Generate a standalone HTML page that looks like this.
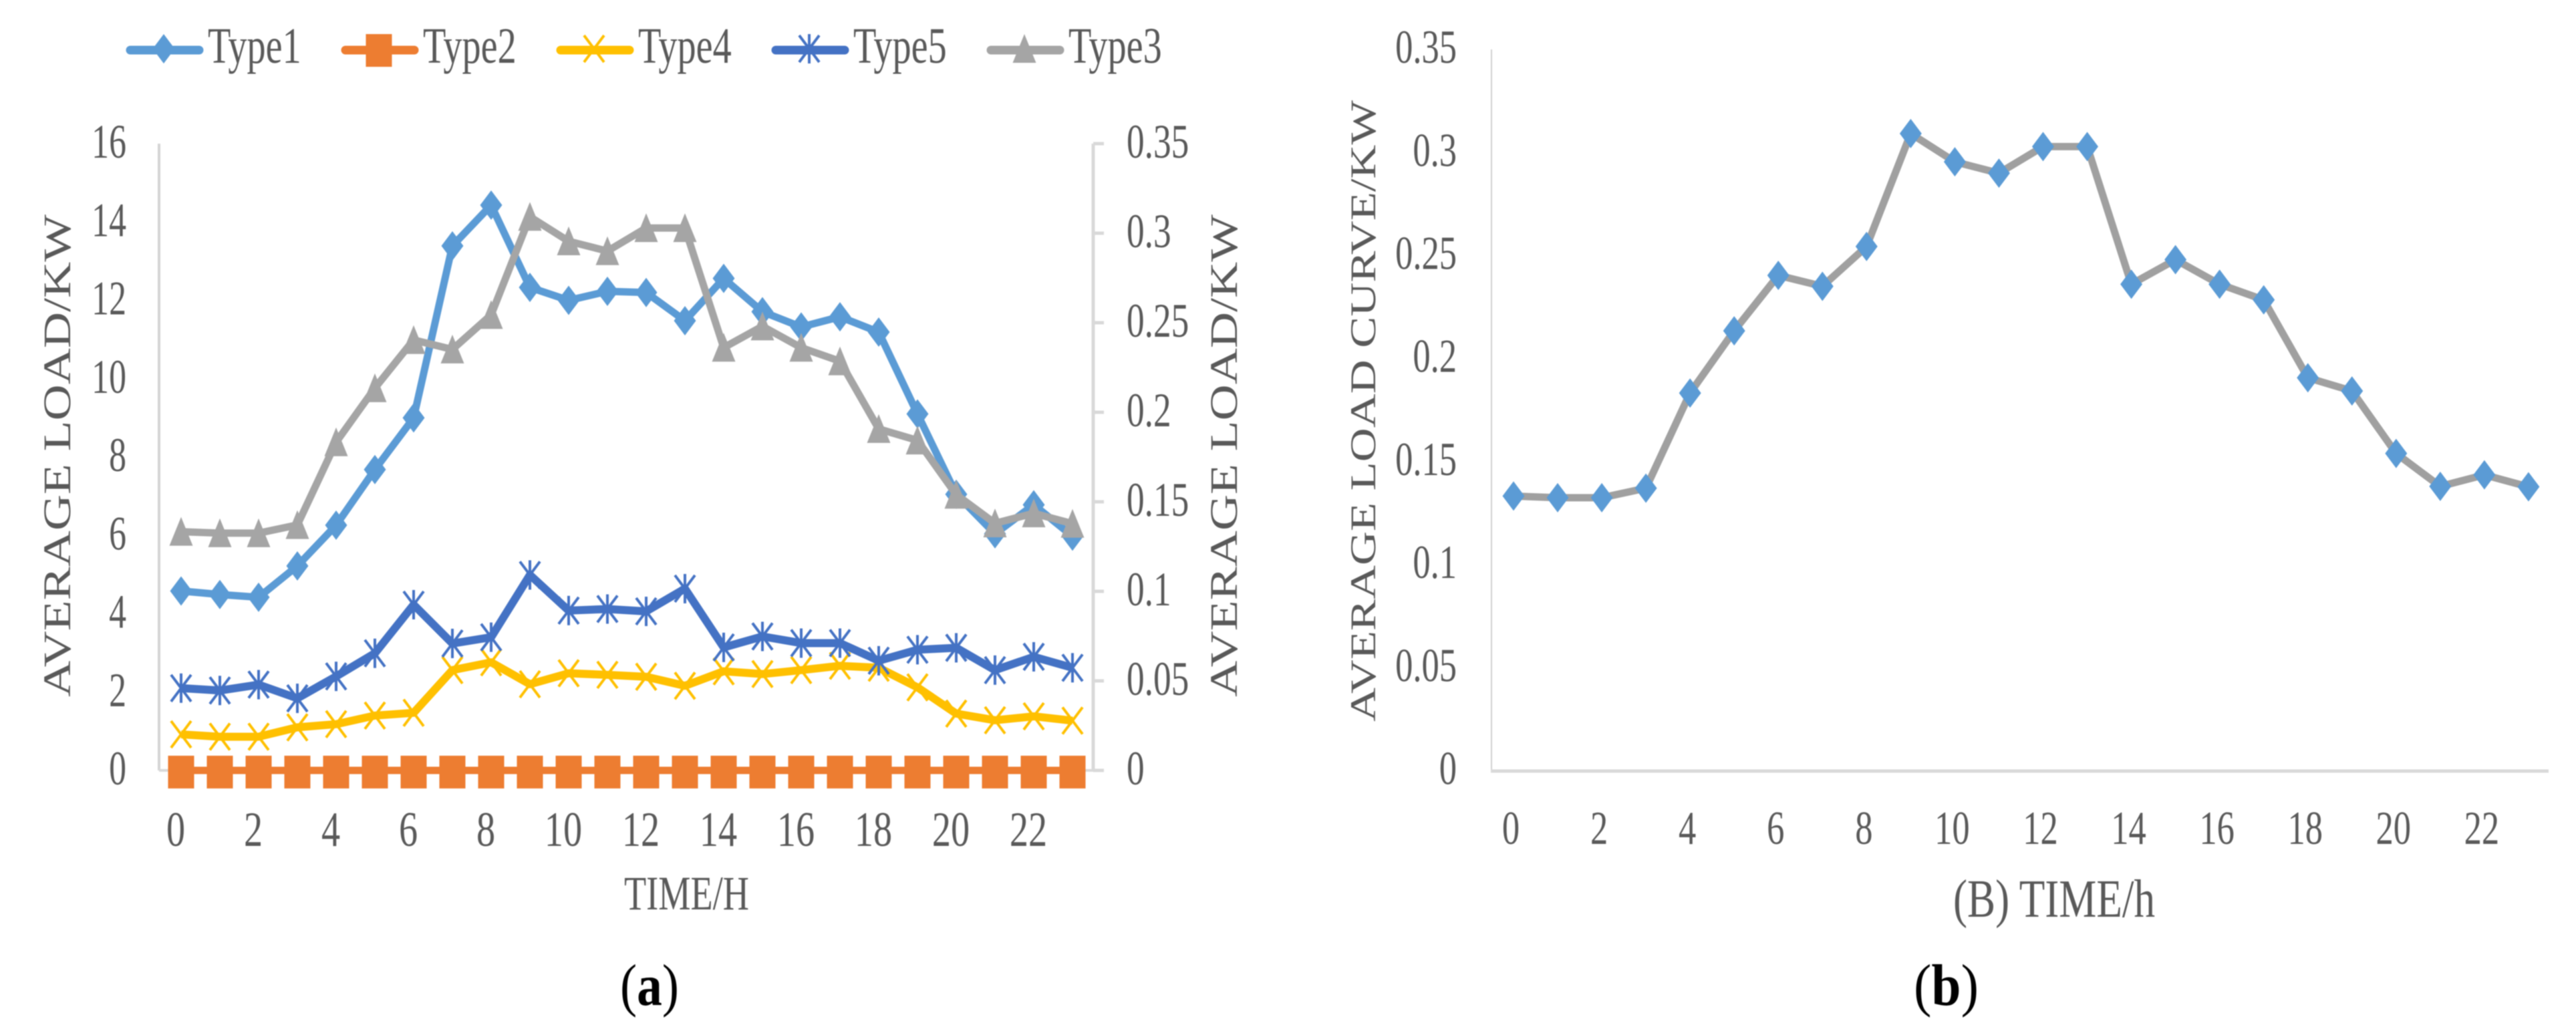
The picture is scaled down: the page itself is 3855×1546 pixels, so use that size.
<!DOCTYPE html>
<html lang="en">
<head>
<meta charset="utf-8">
<title>Average load curves</title>
<style>
  html, body { margin: 0; padding: 0; background: #fff; }
  svg { display: block; filter: blur(0.9px); }
  text { font-family: "Liberation Serif", serif; fill: #595959; }
</style>
</head>
<body>
<svg id="figure" xmlns="http://www.w3.org/2000/svg" width="3855" height="1546" viewBox="0 0 3855 1546">
  <rect x="0" y="0" width="3855" height="1546" fill="#ffffff"/>

  <g id="chart-a"></g>
  <g id="chart-b"></g>

  <text transform="translate(105,1043) rotate(-90)" font-size="58" textLength="722" lengthAdjust="spacingAndGlyphs">AVERAGE LOAD/KW</text>
  <text transform="translate(1851,1043) rotate(-90)" font-size="58" textLength="722" lengthAdjust="spacingAndGlyphs">AVERAGE LOAD/KW</text>
  <text x="934" y="1361" font-size="72" textLength="187" lengthAdjust="spacingAndGlyphs">TIME/H</text>
  <text x="928" y="1504" font-size="88" textLength="88" lengthAdjust="spacingAndGlyphs" style="fill:#000">(<tspan font-weight="bold">a</tspan>)</text>

  <text transform="translate(2058,1080) rotate(-90)" font-size="54" textLength="930" lengthAdjust="spacingAndGlyphs">AVERAGE LOAD CURVE/KW</text>
  <text x="2923" y="1372" font-size="80" textLength="302" lengthAdjust="spacingAndGlyphs">(B) TIME/h</text>
  <text x="2864" y="1504" font-size="88" textLength="97" lengthAdjust="spacingAndGlyphs" style="fill:#000">(<tspan font-weight="bold">b</tspan>)</text>
</svg>

<script>
// ---- data ----
const hours = [0,1,2,3,4,5,6,7,8,9,10,11,12,13,14,15,16,17,18,19,20,21,22,23];
const xTickLabels = [0,2,4,6,8,10,12,14,16,18,20,22];
const leftTickLabels = [0,2,4,6,8,10,12,14,16];
const rightTickLabels = [0,0.05,0.1,0.15,0.2,0.25,0.3,0.35];
const legendNames = ['Type1','Type2','Type4','Type5','Type3'];

const type1 = [4.58,4.49,4.42,5.22,6.26,7.68,9.0,13.39,14.43,12.33,12.0,12.23,12.2,11.48,12.56,11.71,11.32,11.58,11.19,9.1,7.05,6.04,6.78,5.98];
const type2 = [0,0,0,0,0,0,0,0,0,0,0,0,0,0,0,0,0,0,0,0,0,0,0,0];
const type4 = [0.92,0.86,0.86,1.10,1.18,1.40,1.47,2.56,2.76,2.20,2.48,2.44,2.39,2.16,2.53,2.46,2.56,2.67,2.62,2.12,1.45,1.28,1.38,1.27];
const type5 = [2.10,2.04,2.19,1.84,2.40,2.99,4.23,3.24,3.40,4.99,4.08,4.12,4.06,4.64,3.14,3.42,3.25,3.25,2.80,3.08,3.13,2.56,2.90,2.62];
const type3 = [0.1333,0.1325,0.1325,0.1371,0.1833,0.2135,0.2404,0.2351,0.2544,0.3092,0.2955,0.2900,0.3029,0.3029,0.2361,0.2480,0.2361,0.2285,0.1907,0.1843,0.1540,0.1380,0.1436,0.1378];
const averageLoad = [0.1333,0.1325,0.1325,0.1371,0.1833,0.2135,0.2404,0.2351,0.2544,0.3092,0.2955,0.2900,0.3029,0.3029,0.2361,0.2480,0.2361,0.2285,0.1907,0.1843,0.1540,0.1380,0.1436,0.1378];

// ---- helpers ----
const NS = 'http://www.w3.org/2000/svg';
const chartA = document.getElementById('chart-a');
const chartB = document.getElementById('chart-b');

function make(tag, parent, name, attrs) {
  const el = document.createElementNS(NS, tag);
  
  
  for (const k in attrs) { el.setAttribute(k, attrs[k]); }
  parent.appendChild(el);
  return el;
}

function label(parent, name, text, x, y, size, anchor, sx) {
  const el = make('text', parent, name, {
    transform: 'translate(' + x + ',' + y + ') scale(' + sx + ',1)',
    'font-size': size,
    'text-anchor': anchor
  });
  el.textContent = text;
  return el;
}

function marker(parent, name, kind, cx, cy, color) {
  if (kind === 'diamond') {
    return make('polygon', parent, name, { points: (cx-16.5)+','+cy+' '+cx+','+(cy-22)+' '+(cx+16.5)+','+cy+' '+cx+','+(cy+22), fill: color });
  }
  if (kind === 'square') {
    return make('rect', parent, name, { x: cx-19.5, y: cy-22, width: 39, height: 49, fill: color });
  }
  if (kind === 'triangle') {
    return make('polygon', parent, name, { points: (cx-17.5)+','+(cy+21)+' '+cx+','+(cy-22)+' '+(cx+17.5)+','+(cy+21), fill: color });
  }
  if (kind === 'cross') {
    return make('path', parent, name, { d: 'M'+(cx-15)+' '+(cy-20)+'L'+(cx+15)+' '+(cy+20)+'M'+(cx+15)+' '+(cy-20)+'L'+(cx-15)+' '+(cy+20), stroke: color, 'stroke-width': 4, fill: 'none' });
  }
  return make('path', parent, name, { d: 'M'+(cx-15)+' '+(cy-20)+'L'+(cx+15)+' '+(cy+20)+'M'+(cx+15)+' '+(cy-20)+'L'+(cx-15)+' '+(cy+20)+'M'+cx+' '+(cy-22)+'L'+cx+' '+(cy+22), stroke: color, 'stroke-width': 4, fill: 'none' });
}

function drawSeries(parent, name, values, xFn, yFn, kind, color, lineColor, lineWidth) {
  const g = make('g', parent, name, {});
  const pts = values.map(function (v, i) { return xFn(i) + ',' + yFn(v); }).join(' ');
  make('polyline', g, name + '-line', { points: pts, fill: 'none', stroke: lineColor, 'stroke-width': lineWidth, 'stroke-linejoin': 'round' });
  values.forEach(function (v, i) {
    marker(g, name + '-point-' + hours[i], kind, xFn(i), yFn(v), color);
  });
}

// ---- chart (a) scales ----
const aX = function (i) { return 271 + 58 * i; };
const aY = function (v) { return 1153 - v * (938 / 16); };
const aYR = function (v) { return 1153 - v * (938 / 0.35); };

// ---- chart (a) axes ----
make('line', chartA, 'chart-a-left-y-axis', { x1: 238, y1: 215, x2: 238, y2: 1153, stroke: '#d4d4d4', 'stroke-width': 4 });
make('line', chartA, 'chart-a-right-y-axis', { x1: 1636, y1: 215, x2: 1636, y2: 1155, stroke: '#d9d9d9', 'stroke-width': 5 });
make('line', chartA, 'chart-a-x-axis', { x1: 238, y1: 1153, x2: 1636, y2: 1153, stroke: '#d9d9d9', 'stroke-width': 4 });

leftTickLabels.forEach(function (v) {
  label(chartA, 'chart-a-left-tick-' + v, String(v), 189, aY(v) + 21, 72, 'end', 0.72);
});
rightTickLabels.forEach(function (v) {
  make('line', chartA, 'chart-a-right-tick-mark-' + v, { x1: 1636, y1: aYR(v), x2: 1652, y2: aYR(v), stroke: '#d9d9d9', 'stroke-width': 5 });
  label(chartA, 'chart-a-right-tick-' + v, String(v), 1686, aYR(v) + 21, 72, 'start', 0.74);
});
xTickLabels.forEach(function (h) {
  label(chartA, 'chart-a-x-tick-' + h, String(h), aX(h) - 8, 1266, 74, 'middle', 0.76);
});

// ---- chart (a) series ----
drawSeries(chartA, 'series-type1', type1, aX, aY, 'diamond', '#5b9bd5', '#5b9bd5', 11);
drawSeries(chartA, 'series-type2', type2, aX, aY, 'square', '#ed7d31', '#ed7d31', 11);
drawSeries(chartA, 'series-type4', type4, aX, aY, 'cross', '#ffc000', '#ffc000', 12);
drawSeries(chartA, 'series-type5', type5, aX, aY, 'asterisk', '#4472c4', '#4472c4', 12);
drawSeries(chartA, 'series-type3', type3, aX, aYR, 'triangle', '#a5a5a5', '#a5a5a5', 11);

// ---- legend ----
const legendKinds = { Type1: 'diamond', Type2: 'square', Type4: 'cross', Type5: 'asterisk', Type3: 'triangle' };
const legendColors = { Type1: '#5b9bd5', Type2: '#ed7d31', Type4: '#ffc000', Type5: '#4472c4', Type3: '#a5a5a5' };
const legend = make('g', chartA, 'legend', {});
legendNames.forEach(function (n, i) {
  const x0 = 189 + 322 * i;
  const g = make('g', legend, 'legend-entry-' + n.toLowerCase(), {});
  make('line', g, 'legend-line-' + n.toLowerCase(), { x1: x0 + 6, y1: 75, x2: x0 + 109, y2: 75, stroke: legendColors[n], 'stroke-width': 13, 'stroke-linecap': 'round' });
  marker(g, 'legend-marker-' + n.toLowerCase(), legendKinds[n], x0 + 56, 73, legendColors[n]);
  label(g, 'legend-label-' + n.toLowerCase(), n, x0 + 122, 94, 76, 'start', 0.74);
});

// ---- chart (b) scales ----
const bX = function (i) { return 2265 + 66.04 * i; };
const bY = function (v) { return 1153.5 - v * 3084; };

// ---- chart (b) axes ----
make('line', chartB, 'chart-b-y-axis', { x1: 2232, y1: 74, x2: 2232, y2: 1153, stroke: '#d0d0d0', 'stroke-width': 2 });
make('line', chartB, 'chart-b-x-axis', { x1: 2231, y1: 1154, x2: 3814, y2: 1154, stroke: '#d9d9d9', 'stroke-width': 5 });

rightTickLabels.forEach(function (v) {
  label(chartB, 'chart-b-y-tick-' + v, String(v), 2180, bY(v) + 20, 71, 'end', 0.74);
});
xTickLabels.forEach(function (h) {
  label(chartB, 'chart-b-x-tick-' + h, String(h), bX(h) - 4, 1263, 71, 'middle', 0.74);
});

// ---- chart (b) series ----
drawSeries(chartB, 'series-average-load', averageLoad, bX, bY, 'diamond', '#5b9bd5', '#a0a0a0', 11);
</script>
</body>
</html>
